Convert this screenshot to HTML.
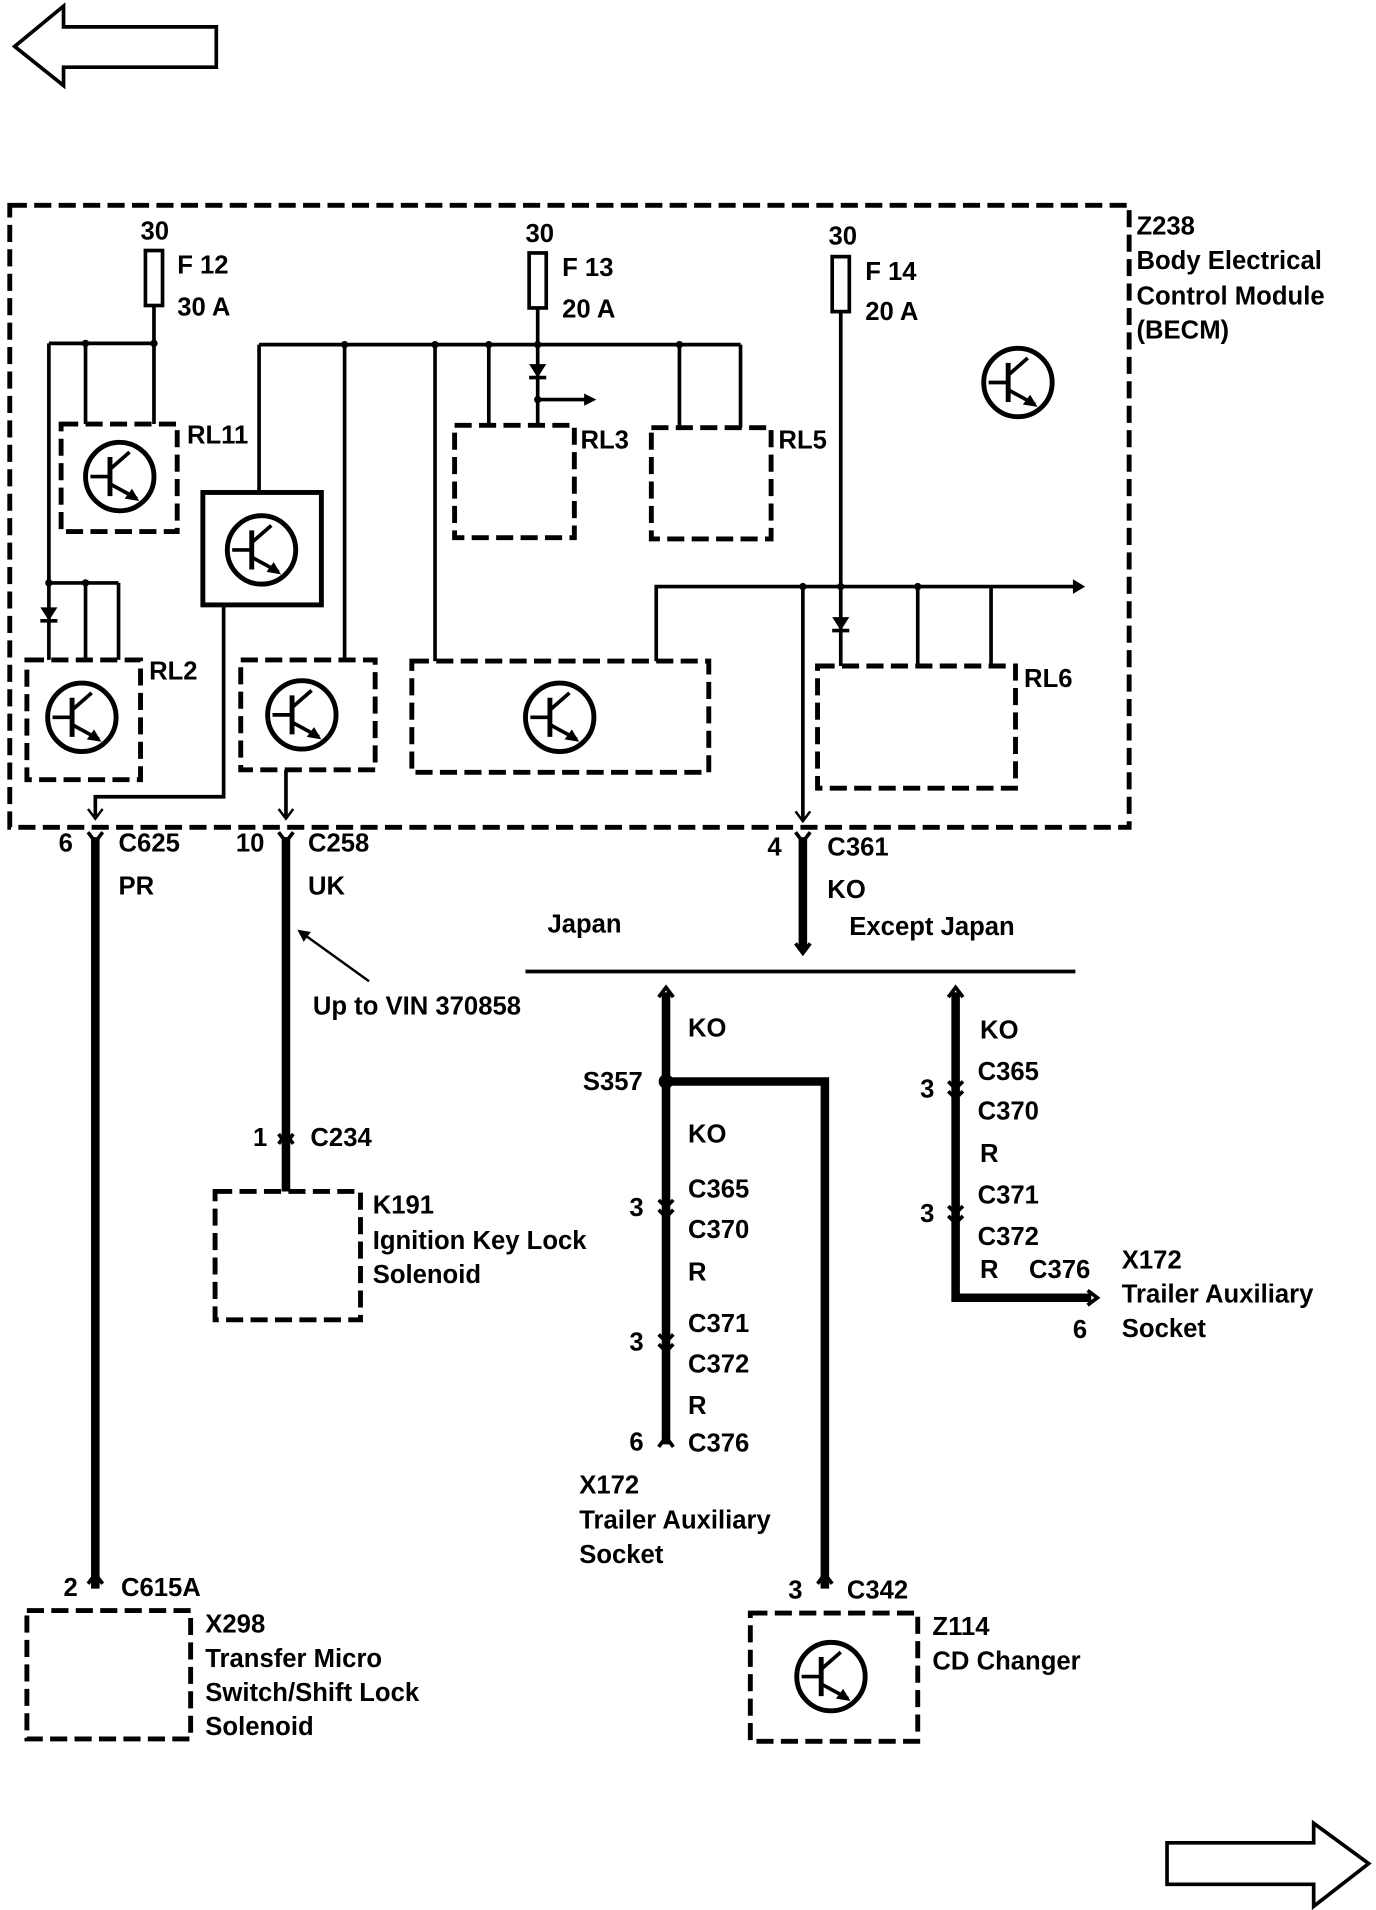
<!DOCTYPE html>
<html><head><style>
html,body{margin:0;padding:0;background:#fff;}
svg{display:block;}
text{font-family:"Liberation Sans",Arial,sans-serif;font-weight:bold;font-size:21px;fill:#000;}
.d{fill:none;stroke:#000;stroke-width:4;stroke-dasharray:14 6;}
.t{fill:none;stroke:#000;stroke-width:3;}
.w{fill:none;stroke:#000;stroke-width:7;}
</style></head><body>
<svg width="1376" height="1910" viewBox="0 0 1126 1563" preserveAspectRatio="none">
<defs>
<symbol id="tr" viewBox="-32 -32 64 64" width="64" height="64">
<circle cx="0" cy="0" r="28" fill="none" stroke="#000" stroke-width="4"/>
<line x1="-8" y1="-16" x2="-8" y2="16" stroke="#000" stroke-width="4"/>
<line x1="-24" y1="0" x2="-8" y2="0" stroke="#000" stroke-width="3"/>
<line x1="-8" y1="-6" x2="8" y2="-20" stroke="#000" stroke-width="3"/>
<line x1="-8" y1="6" x2="14" y2="18" stroke="#000" stroke-width="3"/>
<polygon points="16,20 4,18 10,10" fill="#000"/>
</symbol>
<marker id="ah" markerWidth="10" markerHeight="10" refX="8" refY="5" orient="auto" markerUnits="userSpaceOnUse"><path d="M0,0 L10,5 L0,10 z" fill="#000"/></marker>
</defs>
<!-- page arrows -->
<polygon points="12,38 52,5 52,22 177,22 177,55 52,55 52,70" fill="none" stroke="#000" stroke-width="3"/>
<polygon points="955,1508 1075,1508 1075,1492 1120,1525 1075,1560 1075,1542 955,1542" fill="none" stroke="#000" stroke-width="3"/>
<!-- main box -->
<rect x="8" y="168" width="916" height="509" class="d"/>
<!-- fuses -->
<rect x="119" y="205" width="14" height="45" class="t"/>
<rect x="433" y="207" width="14" height="45" class="t"/>
<rect x="681" y="210" width="14" height="45" class="t"/>
<text x="115" y="196">30</text><text x="145" y="224">F 12</text><text x="145" y="258">30 A</text>
<text x="430" y="198">30</text><text x="460" y="226">F 13</text><text x="460" y="260">20 A</text>
<text x="678" y="200">30</text><text x="708" y="229">F 14</text><text x="708" y="262">20 A</text>
<text x="930" y="192">Z238</text><text x="930" y="220">Body Electrical</text><text x="930" y="249">Control Module</text><text x="930" y="277">(BECM)</text>
<!-- left bus -->
<path class="t" d="M126 250V347 M40 281H126 M70 281V347 M40 281V540 M40 477H97 M70 477V540 M97 477V540"/>
<path d="M33 497h14l-7 11z" fill="#000"/><line x1="33" y1="508" x2="47" y2="508" stroke="#000" stroke-width="3"/>
<circle cx="70" cy="281" r="3"/><circle cx="126" cy="281" r="3"/><circle cx="40" cy="477" r="3"/><circle cx="70" cy="477" r="3"/>
<rect x="50" y="347" width="95" height="88" class="d"/><use href="#tr" x="66" y="358"/>
<text x="153" y="363">RL11</text>
<rect x="22" y="540" width="93" height="98" class="d"/><use href="#tr" x="35" y="555"/>
<text x="122" y="556">RL2</text>
<!-- middle bus -->
<path class="t" d="M212 282H606 M212 282V403 M282 282V540 M356 282V541 M400 282V348 M440 252V348 M440 327H485 M556 282V350 M606 282V350"/>
<circle cx="282" cy="282" r="3"/><circle cx="356" cy="282" r="3"/><circle cx="400" cy="282" r="3"/><circle cx="440" cy="282" r="3"/><circle cx="556" cy="282" r="3"/><circle cx="440" cy="327" r="3"/>
<path d="M478 322l10 5l-10 5z" fill="#000"/>
<path d="M433 298h14l-7 11z" fill="#000"/><line x1="433" y1="309" x2="447" y2="309" stroke="#000" stroke-width="3"/>
<rect x="166" y="403" width="97" height="92" fill="none" stroke="#000" stroke-width="4"/><use href="#tr" x="182" y="418"/>
<rect x="197" y="540" width="110" height="90" class="d"/><use href="#tr" x="215" y="553"/>
<rect x="337" y="541" width="243" height="91" class="d"/><use href="#tr" x="426" y="555"/>
<rect x="372" y="348" width="98" height="92" class="d"/><text x="475" y="367">RL3</text>
<rect x="533" y="350" width="98" height="91" class="d"/><text x="637" y="367">RL5</text>
<use href="#tr" x="801" y="281"/>
<!-- right bus -->
<path class="t" d="M688 255V545 M537 541V480H885 M657 480V672 M751 480V545 M811 480V545"/>
<path d="M878 474l10 6l-10 6z" fill="#000"/>
<circle cx="657" cy="480" r="3"/><circle cx="688" cy="480" r="3"/><circle cx="751" cy="480" r="3"/>
<path d="M681 505h14l-7 11z" fill="#000"/><line x1="681" y1="516" x2="695" y2="516" stroke="#000" stroke-width="3"/>
<rect x="669" y="545" width="162" height="100" class="d"/><text x="838" y="562">RL6</text>
<!-- outputs -->
<path class="t" d="M183 495V652H78V668 M234 630V668"/>
<path d="M72 662l6 8l6-8 M228 662l6 8l6-8 M651 664l6 8l6-8" fill="none" stroke="#000" stroke-width="2"/>
<!-- connector wires -->
<path class="w" d="M78 685V1300 M234 685V975 M657 685V778"/>
<path d="M72 681l6 8l6-8 M228 681l6 8l6-8 M651 681l6 8l6-8 M651 772l6 8l6-8" fill="none" stroke="#000" stroke-width="3"/>
<path d="M72 1296l6-8l6 8 M228 936l6-8l6 8 M228 928l6 8l6-8" fill="none" stroke="#000" stroke-width="3"/>
<text x="48" y="697">6</text><text x="97" y="697">C625</text><text x="97" y="732">PR</text>
<text x="193" y="697">10</text><text x="252" y="697">C258</text><text x="252" y="732">UK</text>
<line x1="302" y1="803" x2="245" y2="762" stroke="#000" stroke-width="2" marker-end="url(#ah)"/>
<text x="256" y="830">Up to VIN 370858</text>
<text x="207" y="938">1</text><text x="254" y="938">C234</text>
<rect x="176" y="975" width="119" height="105" class="d"/>
<text x="305" y="993">K191</text><text x="305" y="1022">Ignition Key Lock</text><text x="305" y="1050">Solenoid</text>
<text x="628" y="700">4</text><text x="677" y="700">C361</text><text x="677" y="735">KO</text>
<text x="448" y="763">Japan</text><text x="695" y="765">Except Japan</text>
<line x1="430" y1="795" x2="880" y2="795" stroke="#000" stroke-width="3"/>
<!-- left branch -->
<path class="w" d="M545 812V1182 M545 885H675V1300"/>
<circle cx="545" cy="885" r="6" fill="#000"/>
<path d="M539 816l6-8l6 8 M539 1184l6-8l6 8 M669 1296l6-8l6 8" fill="none" stroke="#000" stroke-width="3"/>
<path d="M539 990l6 6l6-6 M539 982l6 6l6-6 M539 1100l6 6l6-6 M539 1092l6 6l6-6" fill="none" stroke="#000" stroke-width="3"/>
<text x="563" y="848">KO</text><text x="477" y="892">S357</text><text x="563" y="935">KO</text>
<text x="515" y="995">3</text><text x="563" y="980">C365</text><text x="563" y="1013">C370</text><text x="563" y="1048">R</text>
<text x="515" y="1105">3</text><text x="563" y="1090">C371</text><text x="563" y="1123">C372</text><text x="563" y="1157">R</text>
<text x="515" y="1187">6</text><text x="563" y="1188">C376</text>
<text x="474" y="1222">X172</text><text x="474" y="1251">Trailer Auxiliary</text><text x="474" y="1279">Socket</text>
<text x="645" y="1308">3</text><text x="693" y="1308">C342</text>
<rect x="614" y="1320" width="137" height="105" class="d"/><use href="#tr" x="648" y="1340"/>
<text x="763" y="1338">Z114</text><text x="763" y="1366">CD Changer</text>
<!-- right branch -->
<path class="w" d="M782 812V1062H893"/>
<path d="M776 816l6-8l6 8 M890 1056l8 6l-8 6" fill="none" stroke="#000" stroke-width="3"/>
<path d="M776 893l6 6l6-6 M776 885l6 6l6-6 M776 995l6 6l6-6 M776 987l6 6l6-6" fill="none" stroke="#000" stroke-width="3"/>
<text x="802" y="850">KO</text><text x="800" y="884">C365</text><text x="753" y="898">3</text><text x="800" y="916">C370</text>
<text x="802" y="951">R</text><text x="753" y="1000">3</text><text x="800" y="985">C371</text><text x="800" y="1019">C372</text>
<text x="802" y="1046">R</text><text x="842" y="1046">C376</text><text x="878" y="1095">6</text>
<text x="918" y="1038">X172</text><text x="918" y="1066">Trailer Auxiliary</text><text x="918" y="1094">Socket</text>
<!-- bottom left -->
<text x="52" y="1306">2</text><text x="99" y="1306">C615A</text>
<rect x="22" y="1318" width="134" height="105" class="d"/>
<text x="168" y="1336">X298</text><text x="168" y="1364">Transfer Micro</text><text x="168" y="1392">Switch/Shift Lock</text><text x="168" y="1420">Solenoid</text>
</svg>
</body></html>
